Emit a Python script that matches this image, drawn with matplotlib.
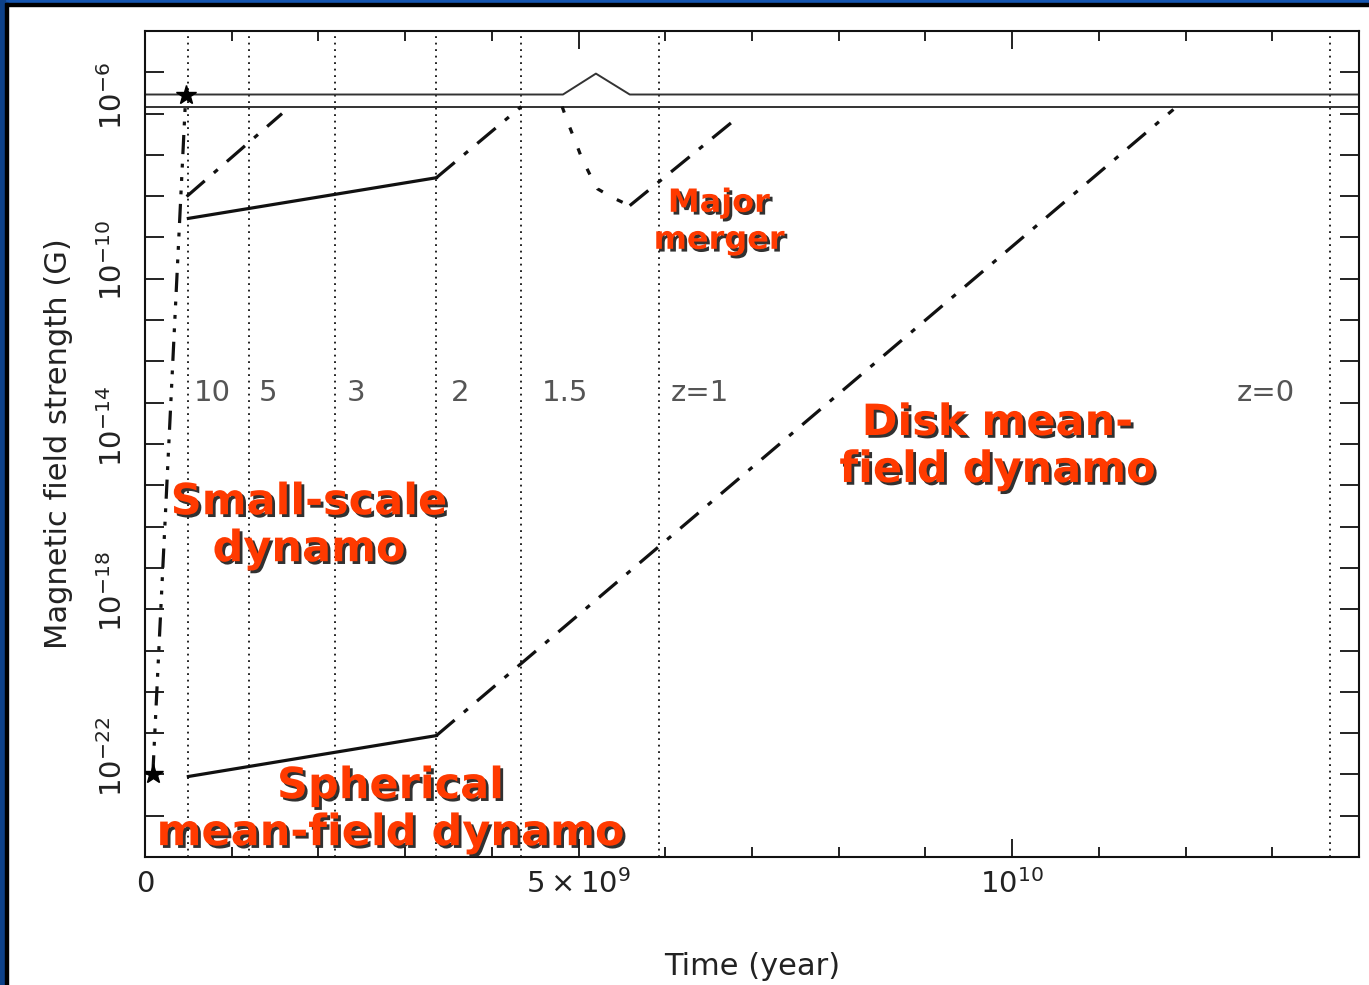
import numpy as np
import matplotlib.pyplot as plt
import matplotlib.patheffects as pe
from matplotlib.patches import Rectangle
from matplotlib.ticker import FixedLocator, NullLocator
from matplotlib.transforms import ScaledTranslation

# --- data (time in years, field in gauss) ---
# redshift markers
z_time = [0.496e9, 1.20e9, 2.19e9, 3.36e9, 4.34e9, 5.93e9, 13.67e9]
z_text = ['10', '5', '3', '2', '1.5', 'z=1', 'z=0']
z_text_x = [0.78e9, 1.42e9, 2.43e9, 3.63e9, 4.84e9, 6.40e9, 12.92e9]
z_text_y = 1.75e-13

# equipartition levels (upper one with the merger bump)
eq_t = [0.0, 4.82e9, 5.20e9, 5.59e9, 1.4e10]
eq_hi = [2.9e-6, 2.9e-6, 9.3e-6, 2.9e-6, 2.9e-6]
eq_lo = 1.48e-6

# small-scale dynamo (seed -> saturation)
ss_t = [0.09e9, 0.47e9]
ss_b = [1.0e-22, 2.9e-6]

# spherical mean-field dynamo, seeded by primordial field
sph_t = [0.50e9, 3.36e9]
sph_b = [8.9e-23, 8.7e-22]
disk_t = [3.36e9, 11.86e9]
disk_b = [8.7e-22, 1.26e-6]

# spherical dynamo seeded by small-scale dynamo
sph2_t = [0.50e9, 3.36e9]
sph2_b = [2.9e-9, 2.8e-8]
disk2_t = [3.36e9, 4.34e9]
disk2_b = [2.8e-8, 1.48e-6]

# early disk dynamo
disk3_t = [0.48e9, 1.58e9]
disk3_b = [9.8e-9, 1.0e-6]

# major merger: field drop and regrowth
merge_t = [4.81e9, 4.88e9, 4.96e9, 5.03e9, 5.12e9, 5.22e9, 5.39e9, 5.59e9]
merge_b = [1.48e-6, 5.8e-7, 2.2e-7, 9.1e-8, 3.7e-8, 1.5e-8, 9.3e-9, 5.9e-9]
regrow_t = [5.59e9, 6.86e9]
regrow_b = [5.9e-9, 8.9e-7]

star_t = [0.09e9, 0.47e9]
star_b = [1.0e-22, 2.9e-6]

ytick_vals = [10.0 ** k for k in range(-24, -3)]
ylabel_pows = [-6, -10, -14, -18, -22]

# --- figure ---
fig = plt.figure(figsize=(13.69, 9.85), dpi=100)
fig.patch.set_facecolor('white')
W, H = 1369.0, 985.0
fig.add_artist(Rectangle((0, 1 - 3 / H), 1, 3 / H, transform=fig.transFigure,
                         color='#1656b0', zorder=0))
fig.add_artist(Rectangle((0, 1 - 6 / H), 1, 3 / H, transform=fig.transFigure,
                         color='black', zorder=0))
fig.add_artist(Rectangle((0, 0), 5 / W, 1, transform=fig.transFigure,
                         color='#0d4189', zorder=0))
fig.add_artist(Rectangle((5 / W, 0), 3 / W, 1 - 3 / H, transform=fig.transFigure,
                         color='black', zorder=0))

ax = fig.add_axes([145 / W, 1 - 857 / H, (1359 - 145) / W, (857 - 31) / H])
ax.set_yscale('log')
ax.set_xlim(0, 1.4e10)
ax.set_ylim(1e-24, 1e-4)

ink = '#111111'
lw = 2.3
dashdot = (0, (7.5, 3.8, 1.6, 3.8))
dash3dot = (0, (6, 3, 1.2, 3, 1.2, 3, 1.2, 3))

for t in z_time:
    ax.axvline(t, color=ink, lw=1.3, ls=(0, (1, 2.6)), zorder=1)
for t, s in zip(z_text_x, z_text):
    ax.text(t, z_text_y, s, fontsize=21, color='#555555', ha='center', va='center')

ax.plot(eq_t, eq_hi, color='#333333', lw=1.4, zorder=2)
ax.axhline(eq_lo, color='#333333', lw=1.4, zorder=2)

ax.plot(ss_t, ss_b, color=ink, lw=lw, ls=dash3dot, zorder=3)
ax.plot(sph_t, sph_b, color=ink, lw=lw, zorder=3)
ax.plot(disk_t, disk_b, color=ink, lw=lw, ls=dashdot, zorder=3)
ax.plot(sph2_t, sph2_b, color=ink, lw=lw, zorder=3)
ax.plot(disk2_t, disk2_b, color=ink, lw=lw, ls=dashdot, zorder=3)
ax.plot(disk3_t, disk3_b, color=ink, lw=lw, ls=dashdot, zorder=3)
ax.plot(merge_t, merge_b, color=ink, lw=lw, ls=(0, (2, 5)), zorder=3)
ax.plot(regrow_t, regrow_b, color=ink, lw=lw, ls=dashdot, zorder=3)
ax.plot(star_t, star_b, ls='none', marker='*', ms=15, color='black', zorder=4)

# ticks
ax.xaxis.set_major_locator(FixedLocator([0, 5e9, 1e10]))
ax.xaxis.set_minor_locator(FixedLocator(np.arange(0, 1.41e10, 1e9)))
ax.set_xticklabels(['0', r'$5\times10^{9}$', r'$10^{10}$'])
ax.yaxis.set_major_locator(FixedLocator(ytick_vals))
ax.yaxis.set_minor_locator(NullLocator())
ylabels = []
for v in ytick_vals:
    p = int(round(np.log10(v)))
    ylabels.append(r'$10^{%d}$' % p if p in ylabel_pows else '')
ax.set_yticklabels(ylabels, rotation=90, va='center')
ax.tick_params(which='both', direction='in', top=True, right=True,
               colors=ink, labelcolor='#222222', width=1.3)
ax.tick_params(axis='x', which='major', length=13, pad=9, labelsize=21)
ax.tick_params(axis='x', which='minor', length=7)
ax.tick_params(axis='y', which='major', length=14, pad=12, labelsize=21)
shift = ScaledTranslation(0, 18 / 100, fig.dpi_scale_trans)
for lab in ax.get_yticklabels():
    lab.set_transform(lab.get_transform() + shift)
for sp in ax.spines.values():
    sp.set_linewidth(1.5)
    sp.set_color(ink)

ax.set_xlabel('Time (year)', fontsize=22, color='#222222', labelpad=38)
ax.set_ylabel('Magnetic field strength (G)', fontsize=22, color='#222222', labelpad=18)

# annotations
red = '#ff3a00'
shadow = [pe.withSimplePatchShadow(offset=(2, -2), shadow_rgbFace='#1a1a1a', alpha=0.9)]
ax.text(1.89e9, 1.05e-16, 'Small-scale\ndynamo', fontsize=31, fontweight='bold',
        color=red, ha='center', va='center', linespacing=1.15, path_effects=shadow)
ax.text(2.83e9, 1.4e-23, 'Spherical\nmean-field dynamo', fontsize=31, fontweight='bold',
        color=red, ha='center', va='center', linespacing=1.15, path_effects=shadow)
ax.text(9.83e9, 8.7e-15, 'Disk mean-\nfield dynamo', fontsize=31, fontweight='bold',
        color=red, ha='center', va='center', linespacing=1.15, path_effects=shadow)
ax.text(6.62e9, 2.4e-9, 'Major\nmerger', fontsize=23, fontweight='bold',
        color=red, ha='center', va='center', linespacing=1.25, path_effects=shadow)

fig.savefig('out.png', dpi=100)
